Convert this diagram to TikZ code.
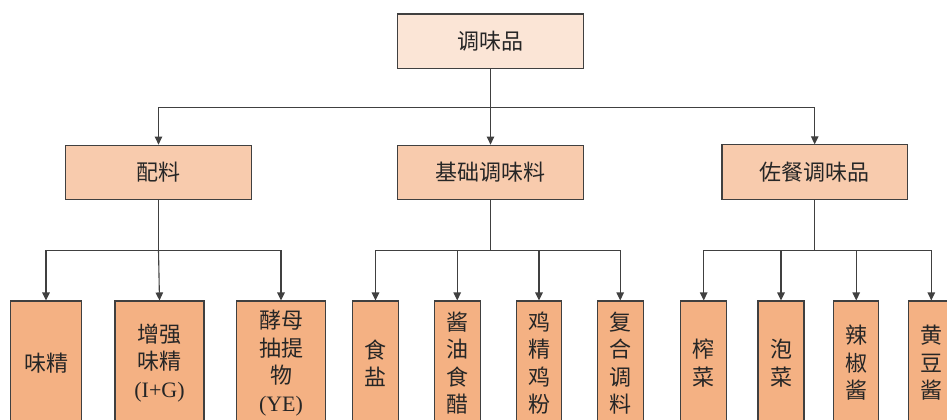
\documentclass[tikz,border=0pt]{standalone}
\usepackage{fontspec}
\setmainfont{Noto Sans CJK SC}
\newfontfamily\latserif{Liberation Serif}
\usetikzlibrary{arrows.meta}
\definecolor{lvlone}{HTML}{FBE5D6}
\definecolor{lvltwo}{HTML}{F8CBAD}
\definecolor{lvlthree}{HTML}{F4B183}
\definecolor{edgegray}{HTML}{404040}
\tikzset{
  boxbase/.style={draw=edgegray, line width=1.1bp, inner sep=0pt, align=center,
    font=\fontsize{22bp}{27.5bp}\selectfont, text=black!85},
  topbox/.style={boxbase, fill=lvlone, minimum width=185.5bp, minimum height=54.5bp},
  midbox/.style={boxbase, fill=lvltwo, minimum width=185.5bp, minimum height=54.7bp},
  leafbox/.style={boxbase, fill=lvlthree, minimum height=124bp},
  conn/.style={draw=edgegray, line width=1.1bp},
  arr/.style={conn, -{Triangle[width=7.5bp,length=8bp]}}
}
\begin{document}
\begin{tikzpicture}[x=1bp,y=-1bp]
\clip (0,0) rectangle (947,419);
\fill[white] (0,0) rectangle (947,419);
% level 1
\node[topbox] (root) at (490.5,41.2) {调味品};
% level 2
\node[midbox] (pl) at (158.5,172.5) {配料};
\node[midbox] (jc) at (490.5,172.5) {基础调味料};
\node[midbox] (zc) at (814.7,172.2) {佐餐调味品};
% level 3
\node[leafbox, minimum width=71.7bp] (wj) at (46,363) {味精};
\node[leafbox, minimum width=89bp] (zq) at (159.5,363) {增强\\味精\\{\latserif(I+G)}};
\node[leafbox, minimum width=89bp] (jm) at (281,363) {酵母\\抽提\\物\\{\latserif(YE)}};
\node[leafbox, minimum width=46.4bp] (sy) at (375.5,363) {食\\盐};
\node[leafbox, minimum width=45.7bp] (jy) at (457.2,363) {酱\\油\\食\\醋};
\node[leafbox, minimum width=45.4bp] (jj) at (539,363) {鸡\\精\\鸡\\粉};
\node[leafbox, minimum width=46.3bp] (fh) at (620.2,363) {复\\合\\调\\料};
\node[leafbox, minimum width=46bp] (zh) at (703.7,363) {榨\\菜};
\node[leafbox, minimum width=46bp] (pc) at (781,363) {泡\\菜};
\node[leafbox, minimum width=45bp] (lj) at (856.2,363) {辣\\椒\\酱};
\node[leafbox, minimum width=46bp] (hd) at (931.3,363) {黄\\豆\\酱};
% junctions
\coordinate (j1) at (490.5,107.3);
\coordinate (j2) at (158.5,250.5);
\coordinate (j3) at (490.5,250.5);
\coordinate (j4) at (814.7,250.5);
% connectors level 1 -> 2
\draw[conn] (root.south) -- (j1);
\draw[arr] (j1) -| (pl.north);
\draw[arr] (j1) -- (jc.north);
\draw[arr] (j1) -| (zc.north);
% connectors level 2 -> 3
\draw[conn] (pl.south) -- (j2);
\draw[arr] (j2) -| (wj.north);
\draw[arr] (j2) -- (zq.north);
\draw[arr] (j2) -| (jm.north);
\draw[conn] (jc.south) -- (j3);
\draw[arr] (j3) -| (sy.north);
\draw[arr] (j3) -| (jy.north);
\draw[arr] (j3) -| (jj.north);
\draw[arr] (j3) -| (fh.north);
\draw[conn] (zc.south) -- (j4);
\draw[arr] (j4) -| (zh.north);
\draw[arr] (j4) -| (pc.north);
\draw[arr] (j4) -| (lj.north);
\draw[arr] (j4) -| (hd.north);
\end{tikzpicture}
\end{document}
